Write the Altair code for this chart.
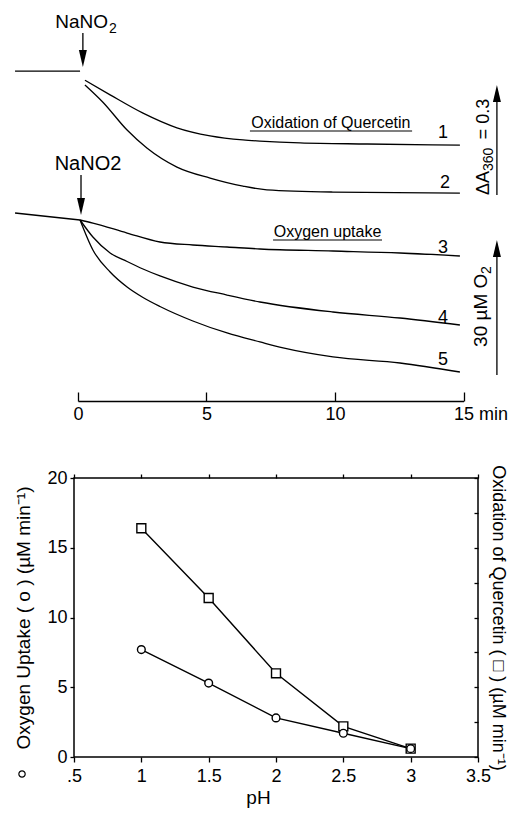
import altair as alt
import pandas as pd

FONT = "Liberation Sans"

# ---------------- upper panel: recorder traces ----------------
# traces 1, 2: time (min) vs change of absorbance at 360 nm
base_a_t = [-2.45, 0.08]
base_a_val = [0.0, 0.0]
trace1_t = [0.27, 1.25, 2.53, 3.85, 5.14, 6.42, 7.08, 8.64, 11.25, 14.86]
trace1_val = [-0.025, -0.065, -0.115, -0.155, -0.177, -0.188, -0.191, -0.196, -0.199, -0.202]
trace2_t = [0.27, 0.97, 1.91, 2.68, 3.85, 5.14, 6.42, 7.35, 9.92, 14.86]
trace2_val = [-0.038, -0.085, -0.161, -0.210, -0.262, -0.292, -0.314, -0.324, -0.330, -0.333]

# traces 3-5: time (min) vs change of O2 (uM)
base_o_t = [-2.45, 0.08]
base_o_val = [1.56, 0.0]
trace3_t = [0.08, 0.58, 1.91, 3.19, 4.47, 5.80, 7.08, 9.92, 12.53, 14.86]
trace3_val = [0.0, -0.67, -2.89, -4.89, -5.56, -6.0, -6.44, -6.89, -7.33, -8.0]
trace4_t = [0.08, 0.58, 1.25, 1.91, 2.53, 3.19, 4.47, 5.80, 7.08, 9.92, 12.53, 14.86]
trace4_val = [0.0, -3.78, -7.33, -9.22, -10.89, -12.44, -14.89, -16.67, -18.22, -20.44, -21.78, -23.33]
trace5_t = [0.08, 0.58, 1.25, 1.91, 2.53, 3.19, 4.47, 5.80, 7.08, 7.98, 9.92, 12.53, 14.86]
trace5_val = [0.0, -6.67, -11.56, -14.89, -17.22, -19.22, -22.44, -25.11, -27.11, -28.44, -30.44, -31.78, -33.78]

time_ticks = [0, 5, 10, 15]

# ---------------- lower panel: pH dependence ----------------
ph = [1.0, 1.5, 2.0, 2.5, 3.0]
oxygen_uptake = [7.7, 5.3, 2.8, 1.7, 0.6]
quercetin_oxidation = [16.4, 11.4, 6.0, 2.2, 0.6]
ph_ticks = [0.5, 1.0, 1.5, 2.0, 2.5, 3.0, 3.5]
y_ticks = [0, 5, 10, 15, 20]
y_minor_ticks = [0, 2.5, 5, 7.5, 10, 12.5, 15, 17.5, 20]

# ---------------- scales ----------------
def T():
    return alt.Scale(domain=[0, 15], range=[4, 389.5], nice=False, zero=False)

def SA():
    return alt.Scale(domain=[-0.4, 0.2], range=[-260.3, -480.3], nice=False, zero=False)

def SV():
    return alt.Scale(domain=[-40, 20], range=[-78, -348], nice=False, zero=False)

def PH():
    return alt.Scale(domain=[0.5, 3.5], nice=False, zero=False)

def SY():
    return alt.Scale(domain=[0, 20], nice=False, zero=False)


def frame(names, ts, vs):
    rows = []
    for n, tt, vv in zip(names, ts, vs):
        for a, b in zip(tt, vv):
            rows.append({"curve": n, "t": a, "v": b})
    return pd.DataFrame(rows)


abs_df = frame(["base", "1", "2"], [base_a_t, trace1_t, trace2_t], [base_a_val, trace1_val, trace2_val])
o2_df = frame(["base", "3", "4", "5"], [base_o_t, trace3_t, trace4_t, trace5_t],
              [base_o_val, trace3_val, trace4_val, trace5_val])

time_axis = alt.Axis(
    orient="top", offset=77, values=time_ticks, tickSize=9, tickWidth=1.3, tickColor="black",
    domainColor="black", domainWidth=1.3, labelFontSize=18, labelBaseline="middle",
    labelPadding=-22, labelFlush=False, labelOverlap=False,
    labelExpr="datum.value == 15 ? '15 min' : datum.label",
    labelAlign={"condition": {"test": "datum.value == 15", "value": "left"}, "value": "center"},
    labelOffset={"condition": {"test": "datum.value == 15", "value": -10}, "value": 0},
    title=None, grid=False,
)

layers = []

layers.append(
    alt.Chart(abs_df).mark_line(color="black", strokeWidth=1.3, interpolate="monotone").encode(
        x=alt.X("t:Q", scale=T(), axis=time_axis),
        y=alt.Y("v:Q", scale=SA(), axis=None),
        detail="curve:N",
    )
)
layers.append(
    alt.Chart(o2_df).mark_line(color="black", strokeWidth=1.3, interpolate="monotone").encode(
        x=alt.X("t:Q", scale=T(), axis=None),
        y=alt.Y("v:Q", scale=SV(), axis=None),
        detail="curve:N",
    )
)


def text_layer(df, ys, **kw):
    return alt.Chart(df).mark_text(font=FONT, color="black", **kw).encode(
        x=alt.X("t:Q", scale=T(), axis=None),
        y=alt.Y("v:Q", scale=ys(), axis=None),
        text="label:N",
    )


def vrule(df, ys):
    return alt.Chart(df).mark_rule(color="black", strokeWidth=1.3).encode(
        x=alt.X("t:Q", scale=T(), axis=None),
        y=alt.Y("v:Q", scale=ys(), axis=None),
        y2="v2:Q",
    )


def hrule(df, ys):
    return alt.Chart(df).mark_rule(color="black", strokeWidth=1.1).encode(
        x=alt.X("t:Q", scale=T(), axis=None),
        x2="t2:Q",
        y=alt.Y("v:Q", scale=ys(), axis=None),
    )


DOWN = "M-0.47,-1L0.47,-1L0,1Z"
UP = "M-0.47,1L0.47,1L0,-1Z"


def head(df, ys, shape):
    return alt.Chart(df).mark_point(shape=shape, filled=True, color="black", size=289, opacity=1).encode(
        x=alt.X("t:Q", scale=T(), axis=None),
        y=alt.Y("v:Q", scale=ys(), axis=None),
    )


# --- absorbance-scale annotations ---
layers.append(text_layer(pd.DataFrame({"t": [1.167], "v": [0.1173], "label": ["NaNO"]}), SA,
                         fontSize=19, align="right", baseline="alphabetic"))
layers.append(text_layer(pd.DataFrame({"t": [1.167], "v": [0.1173], "label": ["2"]}), SA,
                         fontSize=14, align="left", baseline="alphabetic", dx=1, dy=5))
layers.append(vrule(pd.DataFrame({"t": [0.19], "v": [0.104], "v2": [0.045]}), SA))
layers.append(head(pd.DataFrame({"t": [0.19], "v": [0.0341]}), SA, DOWN))
layers.append(text_layer(pd.DataFrame({"t": [14.2, 14.28], "v": [-0.169, -0.305], "label": ["1", "2"]}), SA,
                         fontSize=18, align="center", baseline="middle"))
layers.append(text_layer(pd.DataFrame({"t": [9.84], "v": [-0.1554], "label": ["Oxidation of Quercetin"]}), SA,
                         fontSize=16, align="center", baseline="alphabetic"))
layers.append(hrule(pd.DataFrame({"t": [6.69], "t2": [13.0], "v": [-0.1636]}), SA))
layers.append(vrule(pd.DataFrame({"t": [16.3], "v": [-0.338], "v2": [-0.07]}), SA))
layers.append(head(pd.DataFrame({"t": [16.3], "v": [-0.0614]}), SA, UP))
layers.append(text_layer(pd.DataFrame({"t": [15.8, 15.8], "v": [-0.338, -0.186], "label": ["ΔA", "= 0.3"]}), SA,
                         fontSize=18, align="left", baseline="middle", angle=270))
layers.append(text_layer(pd.DataFrame({"t": [15.8], "v": [-0.2727], "label": ["360"]}), SA,
                         fontSize=14, align="left", baseline="middle", angle=270, dy=5))

# --- O2-scale annotations ---
layers.append(text_layer(pd.DataFrame({"t": [0.389], "v": [11.11], "label": ["NaNO2"]}), SV,
                         fontSize=20, align="center", baseline="alphabetic"))
layers.append(vrule(pd.DataFrame({"t": [0.117], "v": [10.0], "v2": [4.0]}), SV))
layers.append(head(pd.DataFrame({"t": [0.117], "v": [3.0]}), SV, DOWN))
layers.append(text_layer(pd.DataFrame({"t": [14.2, 14.2, 14.2], "v": [-6.22, -21.8, -31.1],
                                       "label": ["3", "4", "5"]}), SV,
                         fontSize=18, align="center", baseline="middle"))
layers.append(text_layer(pd.DataFrame({"t": [9.71], "v": [-3.78], "label": ["Oxygen uptake"]}), SV,
                         fontSize=16, align="center", baseline="alphabetic"))
layers.append(hrule(pd.DataFrame({"t": [7.59], "t2": [11.83], "v": [-4.44]}), SV))
layers.append(vrule(pd.DataFrame({"t": [16.3], "v": [-34.44], "v2": [-7.5]}), SV))
layers.append(head(pd.DataFrame({"t": [16.3], "v": [-6.33]}), SV, UP))
layers.append(text_layer(pd.DataFrame({"t": [15.7], "v": [-28.2], "label": ["30 µM O"]}), SV,
                         fontSize=19, align="left", baseline="middle", angle=270))
layers.append(text_layer(pd.DataFrame({"t": [15.7], "v": [-12.0], "label": ["2"]}), SV,
                         fontSize=14, align="left", baseline="middle", angle=270, dy=6))

# --- lower panel ---
bot = pd.DataFrame({"ph": ph, "o2": oxygen_uptake, "q": quercetin_oxidation})

x_bottom = alt.Axis(
    orient="bottom", values=ph_ticks, domain=False, tickSize=5, tickColor="black", tickWidth=1.3,
    labelFontSize=18, labelPadding=5, labelFlush=False, labelOverlap=False,
    labelExpr="datum.value == 0.5 ? '.5' : format(datum.value, '~g')",
    title="pH", titleFontSize=19, titlePadding=3, titleX=184, grid=False,
)
x_top = alt.Axis(orient="top", values=ph_ticks, domain=False, labels=False, tickSize=4,
                 tickColor="black", tickWidth=1.3, title=None, grid=False)
y_left = alt.Axis(
    orient="left", values=y_ticks, domain=False, tickSize=4, tickColor="black", tickWidth=1.3,
    labelFontSize=18, labelPadding=3, labelOverlap=False,
    title="Oxygen Uptake ( o ) (µM min⁻¹)", titleFontSize=19, titlePadding=13, grid=False,
)
y_right = alt.Axis(
    orient="right", offset=-4, values=y_minor_ticks, domain=False, tickSize=4, tickColor="black",
    tickWidth=1.3, labels=False,
    title="Oxidation of Quercetin ( □ ) (µM min⁻¹)", titleFontSize=18, titlePadding=10, grid=False,
)

layers.append(
    alt.Chart(bot).mark_line(color="black", strokeWidth=1.4).encode(
        x=alt.X("ph:Q", scale=PH(), axis=x_top),
        y=alt.Y("q:Q", scale=SY(), axis=y_right),
    )
)
layers.append(
    alt.Chart(bot).mark_line(color="black", strokeWidth=1.4).encode(
        x=alt.X("ph:Q", scale=PH(), axis=x_bottom),
        y=alt.Y("o2:Q", scale=SY(), axis=y_left),
    )
)
layers.append(
    alt.Chart(bot).mark_point(shape="square", filled=True, fill="white", stroke="black",
                              strokeWidth=1.4, size=80, opacity=1).encode(
        x=alt.X("ph:Q", scale=PH(), axis=None),
        y=alt.Y("q:Q", scale=SY(), axis=None),
    )
)
layers.append(
    alt.Chart(bot).mark_point(shape="circle", filled=True, fill="white", stroke="black",
                              strokeWidth=1.4, size=60, opacity=1).encode(
        x=alt.X("ph:Q", scale=PH(), axis=None),
        y=alt.Y("o2:Q", scale=SY(), axis=None),
    )
)
layers.append(
    alt.Chart(pd.DataFrame({"ph": [0.114], "v": [-1.22]})).mark_point(
        shape="circle", filled=False, stroke="black", strokeWidth=1.2, size=40, opacity=1).encode(
        x=alt.X("ph:Q", scale=PH(), axis=None),
        y=alt.Y("v:Q", scale=SY(), axis=None),
    )
)

chart = (
    alt.layer(*layers)
    .resolve_scale(x="independent", y="independent")
    .properties(
        width=404,
        height=279,
        padding={"left": 66, "top": 470, "right": 33, "bottom": 52},
        autosize=alt.AutoSizeParams(type="none"),
        background="white",
    )
    .configure_view(stroke="black", strokeWidth=1.5)
    .configure_axis(labelFont=FONT, titleFont=FONT, labelColor="black", titleColor="black",
                    titleFontWeight="normal")
)

chart.save("out.html", embed_options={"renderer": "svg", "actions": False})
